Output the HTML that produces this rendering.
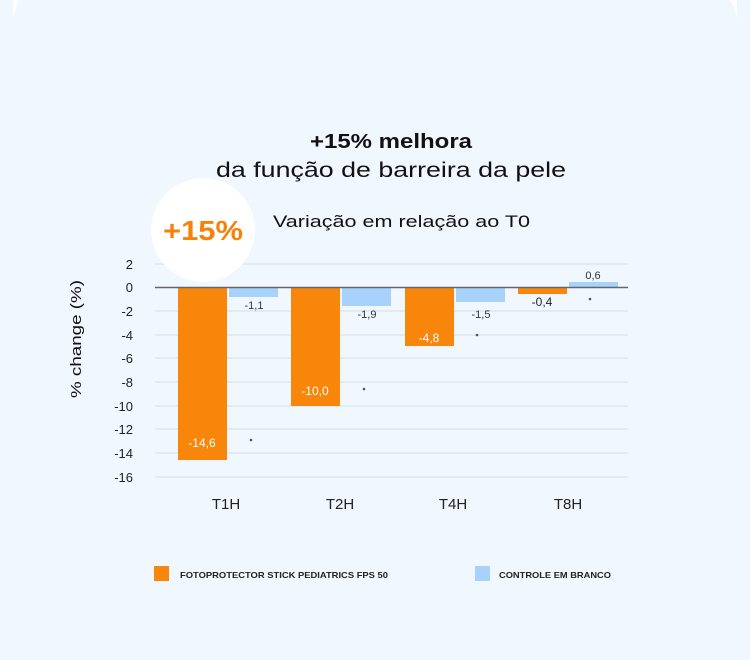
<!DOCTYPE html>
<html><head><meta charset="utf-8"><style>
html,body{margin:0;padding:0;width:750px;height:660px;overflow:hidden;background:#f0f7fe}
</style></head><body>
<svg width="750" height="660" xmlns="http://www.w3.org/2000/svg" font-family="'Liberation Sans', sans-serif">
<rect width="750" height="660" fill="#f0f7fe"/>
<path d="M13 0 H20 Q14 8 13 20 Z" fill="#ffffff"/>
<path d="M737 0 H730 Q736 8 737 20 Z" fill="#ffffff"/>
<text x="310" y="148" textLength="162" lengthAdjust="spacingAndGlyphs" font-size="20" font-weight="bold" fill="#111">+15% melhora</text>
<text x="216" y="177" textLength="350" lengthAdjust="spacingAndGlyphs" font-size="21" fill="#111">da função de barreira da pele</text>
<text x="273" y="227" textLength="257" lengthAdjust="spacingAndGlyphs" font-size="17" fill="#111">Variação em relação ao T0</text>
<g stroke="#dde6ee" stroke-width="1.5">
<line x1="155" x2="628" y1="264" y2="264"/>
<line x1="155" x2="628" y1="311" y2="311"/>
<line x1="155" x2="628" y1="335" y2="335"/>
<line x1="155" x2="628" y1="358" y2="358"/>
<line x1="155" x2="628" y1="382" y2="382"/>
<line x1="155" x2="628" y1="406" y2="406"/>
<line x1="155" x2="628" y1="429" y2="429"/>
<line x1="155" x2="628" y1="453" y2="453"/>
<line x1="155" x2="628" y1="477" y2="477"/>
</g>
<circle cx="203" cy="230" r="52" fill="#ffffff"/>
<text x="163" y="240" textLength="80" lengthAdjust="spacingAndGlyphs" font-size="28" font-weight="bold" fill="#f7820a">+15%</text>
<g font-size="13" fill="#222" text-anchor="end">
<text x="133" y="269">2</text><text x="133" y="292">0</text><text x="133" y="316">-2</text>
<text x="133" y="340">-4</text><text x="133" y="363">-6</text><text x="133" y="387">-8</text>
<text x="133" y="411">-10</text><text x="133" y="434">-12</text><text x="133" y="458">-14</text>
<text x="133" y="482">-16</text>
</g>
<text transform="translate(81,398) rotate(-90)" textLength="118" lengthAdjust="spacingAndGlyphs" font-size="15" fill="#111">% change (%)</text>
<g fill="#f7860b">
<rect x="178" y="288" width="49" height="172"/>
<rect x="291" y="288" width="49" height="118"/>
<rect x="405" y="288" width="49" height="58"/>
<rect x="518" y="288" width="49" height="6"/>
</g>
<g fill="#a7d2fb">
<rect x="229" y="288" width="49" height="9"/>
<rect x="342" y="288" width="49" height="18"/>
<rect x="456" y="288" width="49" height="14"/>
<rect x="569" y="282" width="49" height="5"/>
</g>
<line x1="155" x2="628" y1="287.5" y2="287.5" stroke="#666" stroke-width="1.5"/>
<g font-size="12" fill="#fff" text-anchor="middle">
<text x="202" y="447">-14,6</text><text x="315" y="395">-10,0</text><text x="429" y="342">-4,8</text>
</g>
<g font-size="11" fill="#333" text-anchor="middle">
<text x="254" y="309">-1,1</text><text x="367" y="318">-1,9</text><text x="481" y="318">-1,5</text>
<text x="542" y="306" fill="#222" font-size="12">-0,4</text><text x="593" y="279">0,6</text>
</g>
<g fill="#555"><circle cx="251" cy="440" r="1.3"/><circle cx="364" cy="389" r="1.3"/><circle cx="477" cy="335" r="1.3"/><circle cx="590" cy="299" r="1.3"/></g>
<g font-size="15" fill="#222" text-anchor="middle">
<text x="226" y="509">T1H</text><text x="340" y="509">T2H</text><text x="453" y="509">T4H</text><text x="568" y="509">T8H</text>
</g>
<rect x="154" y="566" width="15" height="15" fill="#f7860b"/>
<text x="180" y="578" textLength="208" lengthAdjust="spacingAndGlyphs" font-size="8.5" font-weight="bold" fill="#222">FOTOPROTECTOR STICK PEDIATRICS FPS 50</text>
<rect x="475" y="566" width="15" height="15" fill="#a7d2fb"/>
<text x="499" y="578" textLength="112" lengthAdjust="spacingAndGlyphs" font-size="8.5" font-weight="bold" fill="#222">CONTROLE EM BRANCO</text>
</svg>
</body></html>
